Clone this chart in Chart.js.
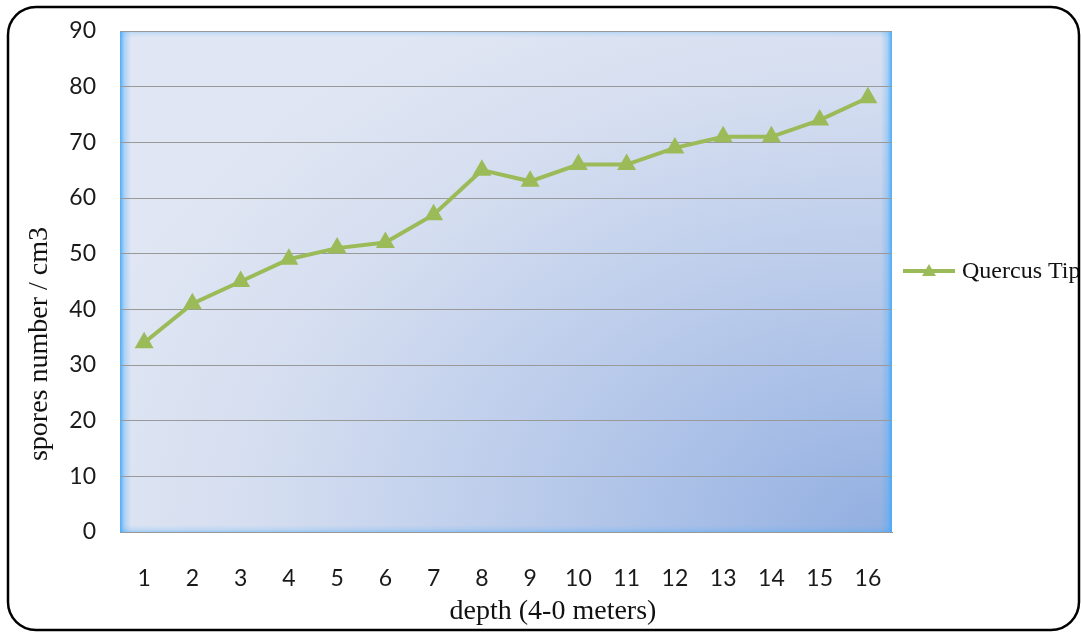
<!DOCTYPE html>
<html>
<head>
<meta charset="utf-8">
<script src="https://cdn.jsdelivr.net/npm/chart.js@4.4.0/dist/chart.umd.min.js"></script>
<style>
    body { margin: 0; background: #fff; }
    canvas { display: block; }
</style>
</head>
<body>
<canvas id="sporesChart" width="1081" height="633"></canvas>
<script>
// data
const depthLabels = ['1', '2', '3', '4', '5', '6', '7', '8', '9', '10', '11', '12', '13', '14', '15', '16'];
const quercusTip = [34, 41, 45, 49, 51, 52, 57, 65, 63, 66, 66, 69, 71, 71, 74, 78];
const seriesName = 'Quercus Tip';
const xTitle = 'depth (4-0 meters)';
const yTitle = 'spores number / cm3';

const green = '#9bbb59';
const serif = '"Liberation Serif", "Times New Roman", serif';
const sans = 'Lato, "Open Sans", sans-serif';

function edgeGlow(ctx, x0, y0, x1, y1, rx, ry, rw, rh, alpha) {
    const s = ctx.createLinearGradient(x0, y0, x1, y1);
    s.addColorStop(0, 'rgba(70,170,250,' + alpha + ')');
    s.addColorStop(0.4, 'rgba(70,170,250,' + (alpha * 0.35) + ')');
    s.addColorStop(1, 'rgba(70,170,250,0)');
    ctx.fillStyle = s;
    ctx.fillRect(rx, ry, rw, rh);
}

// plot background, frame, titles and legend
const decorPlugin = {
    id: 'decor',
    beforeDraw(chart) {
        const ctx = chart.ctx;
        const a = chart.chartArea;
        const w = a.right - a.left, h = a.bottom - a.top;
        ctx.save();
        ctx.fillStyle = '#fff';
        ctx.fillRect(0, 0, chart.width, chart.height);

        // blue gradient, darkest at bottom right (elliptical)
        ctx.save();
        ctx.beginPath();
        ctx.rect(a.left, a.top, w, h);
        ctx.clip();
        ctx.translate(a.right, a.bottom);
        ctx.scale(1, 600 / 850);
        const g = ctx.createRadialGradient(0, 0, 0, 0, 0, 850);
        g.addColorStop(0, '#92afe1');
        g.addColorStop(0.4, '#b7c9ea');
        g.addColorStop(0.75, '#d5def0');
        g.addColorStop(1, '#e0e6f3');
        ctx.fillStyle = g;
        ctx.fillRect(-w - 5, -900, w + 10, 1000);
        ctx.restore();

        // soft glow on the edges
        edgeGlow(ctx, a.left, 0, a.left + 11, 0, a.left, a.top, 11, h, 0.95);
        edgeGlow(ctx, a.right, 0, a.right - 11, 0, a.right - 11, a.top, 11, h, 0.95);
        edgeGlow(ctx, 0, a.top, 0, a.top + 7, a.left, a.top, w, 7, 0.35);
        edgeGlow(ctx, 0, a.bottom, 0, a.bottom - 7, a.left, a.bottom - 7, w, 7, 0.4);
        ctx.restore();
    },
    afterDraw(chart) {
        const ctx = chart.ctx;
        ctx.save();

        // axis titles
        ctx.fillStyle = '#111';
        ctx.font = '28px ' + serif;
        ctx.textAlign = 'center';
        ctx.textBaseline = 'middle';
        ctx.fillText(xTitle, 553, 612);

        ctx.save();
        ctx.translate(40, 344);
        ctx.rotate(-Math.PI / 2);
        ctx.fillText(yTitle, 0, 0);
        ctx.restore();

        // legend
        const ds = chart.data.datasets[0];
        ctx.strokeStyle = ds.borderColor;
        ctx.lineWidth = 4;
        ctx.beginPath();
        ctx.moveTo(903, 271);
        ctx.lineTo(955, 271);
        ctx.stroke();
        ctx.fillStyle = ds.borderColor;
        Chart.helpers.drawPoint(ctx, { pointStyle: 'triangle', radius: 8, rotation: 0, borderWidth: 0 }, 929, 272);
        ctx.fillStyle = '#111';
        ctx.font = '24px ' + serif;
        ctx.textAlign = 'left';
        ctx.fillText(ds.label, 962, 272);

        // rounded frame
        ctx.strokeStyle = '#000';
        ctx.lineWidth = 2.5;
        ctx.beginPath();
        ctx.roundRect(8, 7, 1071, 623, 28);
        ctx.stroke();
        ctx.restore();
    }
};

const ctx = document.getElementById('sporesChart').getContext('2d');
const sporesChart = new Chart(ctx, {
    type: 'line',
    data: {
        labels: depthLabels,
        datasets: [{
            label: seriesName,
            data: quercusTip,
            borderColor: green,
            backgroundColor: green,
            borderWidth: 4,
            tension: 0,
            fill: false,
            pointStyle: 'triangle',
            pointRadius: 11,
            pointBorderWidth: 0,
            pointBackgroundColor: green
        }]
    },
    options: {
        responsive: false,
        animation: false,
        layout: {
            padding: { left: 0, top: 31, right: 189, bottom: 0 }
        },
        plugins: {
            legend: { display: false },
            tooltip: { enabled: false }
        },
        scales: {
            x: {
                offset: true,
                grid: { display: false },
                border: { display: true, color: '#999', width: 1 },
                ticks: {
                    color: '#1a1a1a',
                    font: { family: sans, size: 23 },
                    padding: 25,
                    maxRotation: 0
                },
                afterFit(scale) { scale.height = 101; }
            },
            y: {
                min: 0,
                max: 90,
                grid: { color: '#999', lineWidth: 1, drawTicks: false },
                border: { display: false },
                ticks: {
                    stepSize: 10,
                    color: '#1a1a1a',
                    font: { family: sans, size: 23 },
                    padding: 24
                },
                afterFit(scale) {
                    scale.width = 120;
                    scale.paddingTop = 0;
                    scale.paddingBottom = 0;
                }
            }
        }
    },
    plugins: [decorPlugin]
});
</script>
</body>
</html>
